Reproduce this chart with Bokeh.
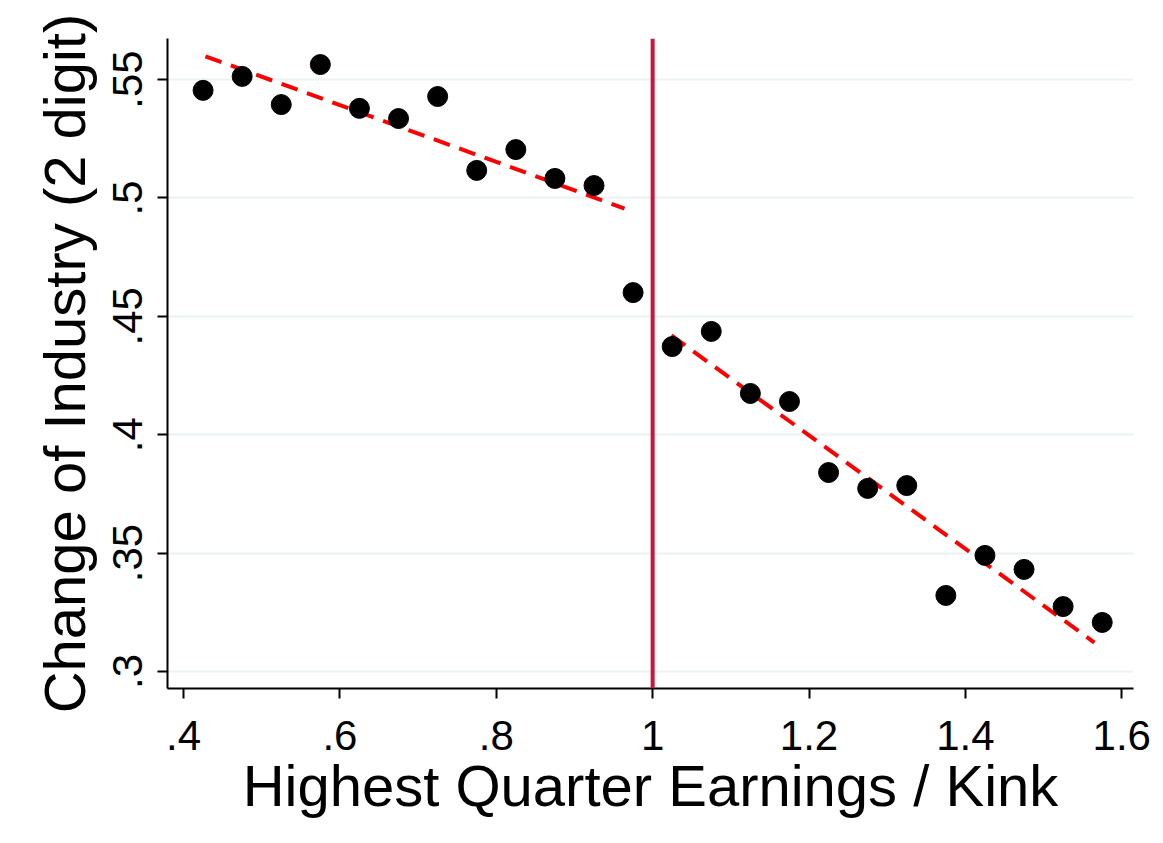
import math
from bokeh.plotting import figure
from bokeh.models import Range1d, FixedTicker, Span
from bokeh.embed import file_html
from bokeh.resources import INLINE

# ---- data ----
bin_x = [0.425, 0.475, 0.525, 0.575, 0.625, 0.675, 0.725, 0.775, 0.825, 0.875, 0.925, 0.975,
         1.025, 1.075, 1.125, 1.175, 1.225, 1.275, 1.325, 1.375, 1.425, 1.475, 1.525, 1.575]
bin_y = [0.5454, 0.5513, 0.5394, 0.5563, 0.5378, 0.5335, 0.5428, 0.5116, 0.5204, 0.5082, 0.5052, 0.4600,
         0.4372, 0.4436, 0.4174, 0.4140, 0.3840, 0.3773, 0.3785, 0.3321, 0.3490, 0.3431, 0.3274, 0.3207]

fit_left_x = [0.428, 0.964]
fit_left_y = [0.5598, 0.4955]
fit_right_x = [1.024, 1.565]
fit_right_y = [0.4419, 0.3122]

kink_x = 1.0

x_ticks = [0.4, 0.6, 0.8, 1.0, 1.2, 1.4, 1.6]
x_tick_labels = [".4", ".6", ".8", "1", "1.2", "1.4", "1.6"]
y_ticks = [0.3, 0.35, 0.4, 0.45, 0.5, 0.55]
y_tick_labels = [".3", ".35", ".4", ".45", ".5", ".55"]

x_title = "Highest Quarter Earnings / Kink"
y_title = "Change of Industry (2 digit)"

FONT = "Liberation Sans"

p = figure(width=1160, height=840, output_backend="svg", toolbar_location=None,
           x_range=Range1d(0.3795, 1.615), y_range=Range1d(0.2928, 0.5673),
           min_border_left=167, min_border_right=27, min_border_top=38, min_border_bottom=152)
p.outline_line_color = None
p.background_fill_color = "white"
p.border_fill_color = "white"

# grid
p.xgrid.visible = False
p.ygrid.ticker = FixedTicker(ticks=y_ticks)
p.ygrid.grid_line_color = "#EAF2F3"
p.ygrid.grid_line_width = 2

# axes
for ax in (p.xaxis[0], p.yaxis[0]):
    ax.axis_line_color = "black"
    ax.axis_line_width = 2
    ax.major_tick_line_color = "black"
    ax.major_tick_line_width = 2
    ax.major_tick_out = 10
    ax.major_tick_in = 0
    ax.minor_tick_line_color = None
    ax.major_label_text_font = FONT
    ax.major_label_text_font_size = "42px"
    ax.major_label_text_color = "black"
    ax.axis_label_text_font = FONT
    ax.axis_label_text_font_size = "58px"
    ax.axis_label_text_font_style = "normal"
    ax.axis_label_text_color = "black"

p.xaxis.ticker = FixedTicker(ticks=x_ticks)
p.xaxis.major_label_overrides = {t: l for t, l in zip(x_ticks, x_tick_labels)}
p.yaxis.ticker = FixedTicker(ticks=y_ticks)
p.yaxis.major_label_overrides = {t: l for t, l in zip(y_ticks, y_tick_labels)}
p.yaxis.major_label_orientation = "parallel"
p.xaxis.axis_label = x_title
p.yaxis.axis_label = y_title
p.xaxis.major_label_standoff = 22
p.xaxis.axis_label_standoff = 0
p.yaxis.major_label_standoff = 15
p.yaxis.axis_label_standoff = 14

# kink line
p.add_layout(Span(location=kink_x, dimension="height", line_color="#C8163E", line_width=4))

# fit lines
p.line(fit_left_x, fit_left_y, line_color="#FF0000", line_width=4, line_dash="17 10")
p.line(fit_right_x, fit_right_y, line_color="#FF0000", line_width=4, line_dash="17 10")

# binned points
p.scatter(bin_x, bin_y, size=20, fill_color="black", line_color="black")

open("out.html", "w").write(file_html(p, INLINE))
